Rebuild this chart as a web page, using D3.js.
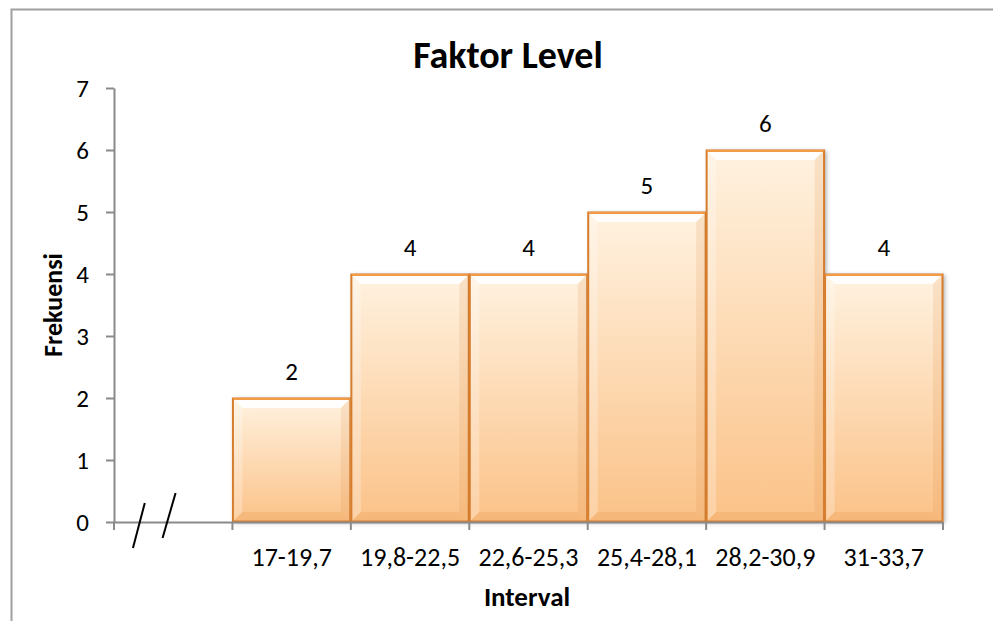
<!DOCTYPE html>
<html>
<head>
<meta charset="utf-8">
<script src="https://cdn.jsdelivr.net/npm/d3@7"></script>
<style>
  body { margin: 0; background: #fff; }
  text { font-family: Carlito, Calibri, Lato, sans-serif; fill: #000; }
</style>
</head>
<body>
<div id="chart"></div>
<script>
// data
var intervals = ["17-19,7", "19,8-22,5", "22,6-25,3", "25,4-28,1", "28,2-30,9", "31-33,7"];
var frekuensi = [2, 4, 4, 5, 6, 4];
var yTicks = [0, 1, 2, 3, 4, 5, 6, 7];

var width = 993, height = 621;
var plot = {left: 114, right: 943, top: 88, bottom: 522};

var svg = d3.select("#chart")
  .append("svg")
    .attr("width", width)
    .attr("height", height);

// outer frame
svg.append("rect")
  .attr("x", 11.5).attr("y", 9.5)
  .attr("width", 1200).attr("height", 900)
  .attr("fill", "none")
  .attr("stroke", "#a0a0a0")
  .attr("stroke-width", 2);

var defs = svg.append("defs");
var grad = defs.append("linearGradient")
  .attr("id", "barFill").attr("x1", 0).attr("y1", 0).attr("x2", 0).attr("y2", 1);
grad.append("stop").attr("offset", "0%").attr("stop-color", "#fff2e0");
grad.append("stop").attr("offset", "100%").attr("stop-color", "#fbc288");

var shadow = defs.append("filter").attr("id", "shadow")
  .attr("x", "-10%").attr("y", "-10%").attr("width", "130%").attr("height", "120%");
shadow.append("feDropShadow")
  .attr("dx", 2).attr("dy", 1).attr("stdDeviation", 2)
  .attr("flood-color", "#000").attr("flood-opacity", 0.3);

// scales: first slot is empty (axis break)
var slots = [""].concat(intervals);
var x = d3.scaleBand()
  .domain(slots)
  .range([plot.left, plot.right])
  .padding(0);

var y = d3.scaleLinear()
  .domain([0, 7])
  .range([plot.bottom, plot.top]);

// title
svg.append("text")
  .attr("x", 508).attr("y", 68)
  .attr("text-anchor", "middle")
  .style("font-size", "38px")
  .style("font-weight", "bold")
  .text("Faktor Level");

// bars
var data = intervals.map(function(d, i) { return {cat: d, val: frekuensi[i]}; });
var bw = x.bandwidth();
var bev = 10;

var bars = svg.append("g").selectAll("g")
  .data(data)
  .enter()
  .append("g");

bars.append("rect")
  .attr("x", function(d) { return x(d.cat); })
  .attr("y", function(d) { return y(d.val); })
  .attr("width", bw)
  .attr("height", function(d) { return y(0) - y(d.val); })
  .attr("fill", "url(#barFill)")
  .attr("filter", "url(#shadow)");

function bevel(d, side) {
  var x0 = x(d.cat), x1 = x0 + bw, y0 = y(d.val), y1 = y(0);
  if (side == "top") return [[x0, y0], [x1, y0], [x1 - bev, y0 + bev], [x0 + bev, y0 + bev]];
  if (side == "bottom") return [[x0, y1], [x1, y1], [x1 - bev, y1 - bev], [x0 + bev, y1 - bev]];
  if (side == "left") return [[x0, y0], [x0 + bev, y0 + bev], [x0 + bev, y1 - bev], [x0, y1]];
  return [[x1, y0], [x1 - bev, y0 + bev], [x1 - bev, y1 - bev], [x1, y1]];
}
var bevels = [
  {side: "top", fill: "#ffffff", op: 0.9},
  {side: "left", fill: "#ffffff", op: 0.25},
  {side: "right", fill: "#d9853a", op: 0.15},
  {side: "bottom", fill: "#e8964a", op: 0.25}
];
bevels.forEach(function(b) {
  bars.append("polygon")
    .attr("points", function(d) { return bevel(d, b.side).join(" "); })
    .attr("fill", b.fill)
    .attr("opacity", b.op);
});

bars.append("rect")
  .attr("x", function(d) { return x(d.cat) + 0.5; })
  .attr("y", function(d) { return y(d.val) + 0.5; })
  .attr("width", bw - 1)
  .attr("height", function(d) { return y(0) - y(d.val) - 1; })
  .attr("fill", "none")
  .attr("stroke", "#d67d2e")
  .attr("stroke-width", 2);

// brighter top edge
bars.append("line")
  .attr("x1", function(d) { return x(d.cat) + 1; })
  .attr("x2", function(d) { return x(d.cat) + bw - 1; })
  .attr("y1", function(d) { return y(d.val) + 1; })
  .attr("y2", function(d) { return y(d.val) + 1; })
  .attr("stroke", "#f29a45")
  .attr("stroke-width", 2);

// data labels
bars.append("text")
  .attr("x", function(d) { return x(d.cat) + bw / 2; })
  .attr("y", function(d) { return y(d.val) - 18; })
  .attr("text-anchor", "middle")
  .style("font-size", "25px")
  .text(function(d) { return d.val; });

// y axis
var yAxis = svg.append("g")
  .attr("transform", "translate(" + plot.left + ",0)")
  .call(d3.axisLeft(y).tickValues(yTicks).tickFormat(d3.format("d"))
    .tickSize(8).tickSizeOuter(0).tickPadding(17));
yAxis.selectAll("text").style("font-size", "25px").style("fill", "#000");
yAxis.selectAll("line").attr("stroke", "#8a8a8a").attr("stroke-width", 2);
yAxis.select(".domain").attr("stroke", "#8a8a8a").attr("stroke-width", 2);

// x axis
var xAxis = svg.append("g")
  .attr("transform", "translate(0," + plot.bottom + ")")
  .call(d3.axisBottom(x).tickSize(0).tickPadding(26));
xAxis.select(".domain").attr("stroke", "#8a8a8a").attr("stroke-width", 2);
xAxis.selectAll("text").style("font-size", "26px").style("fill", "#000");

var bounds = slots.map(function(s) { return x(s); }).concat([plot.right]);
xAxis.selectAll(".bound")
  .data(bounds)
  .enter()
  .append("line")
  .attr("x1", function(d) { return d; })
  .attr("x2", function(d) { return d; })
  .attr("y1", 0).attr("y2", 8)
  .attr("stroke", "#8a8a8a")
  .attr("stroke-width", 2);

// axis break marks in the empty slot
var bx = x(""), bwid = x.bandwidth();
[[0.16, 0.26], [0.41, 0.52]].forEach(function(f, i) {
  var dy = i == 0 ? 0 : -10;
  svg.append("line")
    .attr("x1", bx + f[0] * bwid).attr("y1", plot.bottom + 26 + dy)
    .attr("x2", bx + f[1] * bwid).attr("y2", plot.bottom - 19 + dy)
    .attr("stroke", "#000")
    .attr("stroke-width", 2);
});

// axis titles
svg.append("text")
  .attr("transform", "translate(62,305) rotate(-90)")
  .attr("text-anchor", "middle")
  .style("font-size", "26px")
  .style("font-weight", "bold")
  .text("Frekuensi");

svg.append("text")
  .attr("x", 527).attr("y", 606)
  .attr("text-anchor", "middle")
  .style("font-size", "27px")
  .style("font-weight", "bold")
  .text("Interval");
</script>
</body>
</html>
